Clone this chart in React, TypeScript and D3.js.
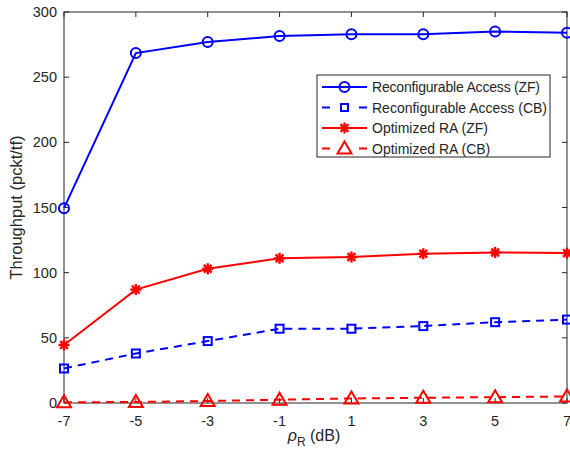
import { useRef, useEffect } from "react";
import * as d3 from "d3";

// rho_R values (dB)
const rhoValues = [-7, -5, -3, -1, 1, 3, 5, 7];
const yTicks = [0, 50, 100, 150, 200, 250, 300];

const raZF = [149.5, 268.5, 277, 281.5, 283, 283, 285, 284];
const raCB = [26.5, 38, 47.5, 57, 57, 59, 62, 64];
const optZF = [44.5, 87, 103, 111, 112, 114.5, 115.5, 115];
const optCB = [0.5, 0.8, 1.5, 2.5, 3.5, 4, 4.5, 5];

const seriesNames = [
  "Reconfigurable Access (ZF)",
  "Reconfigurable Access (CB)",
  "Optimized RA (ZF)",
  "Optimized RA (CB)",
];

const App = () => {
  const svgRef = useRef<SVGSVGElement>(null);
  const width = 570;
  const height = 458;

  useEffect(() => {
    document.body.style.margin = "0";
    document.body.style.overflow = "hidden";
    const svg = d3.select(svgRef.current);
    svg.selectAll("*").remove();

    const left = 64, right = 567, top = 12, bottom = 403;
    const x = d3.scaleLinear().domain([-7, 7]).range([left, right]);
    const y = d3.scaleLinear().domain([0, 300]).range([bottom, top]);
    const axisColor = "#262626";
    const font = "Liberation Sans, Arial, Helvetica, sans-serif";

    svg.append("rect").attr("width", width).attr("height", height).attr("fill", "#fff");

    // box
    svg.append("rect")
      .attr("x", left).attr("y", top)
      .attr("width", right - left).attr("height", bottom - top)
      .attr("fill", "none").attr("stroke", axisColor).attr("stroke-width", 1);

    // ticks
    const tl = 5;
    rhoValues.forEach(v => {
      svg.append("line").attr("x1", x(v)).attr("x2", x(v)).attr("y1", bottom).attr("y2", bottom - tl)
        .attr("stroke", axisColor);
      svg.append("line").attr("x1", x(v)).attr("x2", x(v)).attr("y1", top).attr("y2", top + tl)
        .attr("stroke", axisColor);
      svg.append("text").attr("x", x(v)).attr("y", bottom + 23)
        .attr("text-anchor", "middle").attr("font-family", font).attr("font-size", 14.5)
        .attr("fill", axisColor).text(v);
    });
    yTicks.forEach(v => {
      svg.append("line").attr("x1", left).attr("x2", left + tl).attr("y1", y(v)).attr("y2", y(v))
        .attr("stroke", axisColor);
      svg.append("line").attr("x1", right).attr("x2", right - tl).attr("y1", y(v)).attr("y2", y(v))
        .attr("stroke", axisColor);
      svg.append("text").attr("x", left - 7).attr("y", y(v) + 5)
        .attr("text-anchor", "end").attr("font-family", font).attr("font-size", 14.5)
        .attr("fill", axisColor).text(v);
    });

    // axis labels
    svg.append("text")
      .attr("transform", `translate(22,${(top + bottom) / 2}) rotate(-90)`)
      .attr("text-anchor", "middle").attr("font-family", font).attr("font-size", 16.5)
      .attr("fill", axisColor).text("Throughput (pckt/tf)");
    const xl = svg.append("text").attr("x", 314).attr("y", 441)
      .attr("text-anchor", "middle").attr("font-family", font).attr("font-size", 16)
      .attr("fill", axisColor);
    xl.append("tspan").attr("font-style", "italic").text("ρ");
    xl.append("tspan").attr("dy", 5).attr("font-size", 12).text("R");
    xl.append("tspan").attr("dy", -5).text(" (dB)");

    const blue = "#0000ff", red = "#ff0000";
    const specs = [
      { values: raZF, color: blue, dash: null, marker: "circle" },
      { values: raCB, color: blue, dash: "8,6", marker: "square" },
      { values: optZF, color: red, dash: null, marker: "star" },
      { values: optCB, color: red, dash: "8,6", marker: "triangle" },
    ];

    const drawMarker = (g: any, type: string, cx: number, cy: number, color: string, sq = 8) => {
      if (type === "circle") {
        g.append("circle").attr("cx", cx).attr("cy", cy).attr("r", 5)
          .attr("fill", "none").attr("stroke", color).attr("stroke-width", 2);
      } else if (type === "square") {
        g.append("rect").attr("x", cx - sq / 2).attr("y", cy - sq / 2).attr("width", sq).attr("height", sq)
          .attr("fill", "none").attr("stroke", color).attr("stroke-width", 2);
      } else if (type === "triangle") {
        g.append("path")
          .attr("d", `M${cx},${cy - 7}L${cx + 7},${cy + 5}L${cx - 7},${cy + 5}Z`)
          .attr("fill", "none").attr("stroke", color).attr("stroke-width", 2);
      } else {
        for (let a = 0; a < 180; a += 45) {
          const r = 5.5;
          const dx = r * Math.cos((a * Math.PI) / 180), dy = r * Math.sin((a * Math.PI) / 180);
          g.append("line").attr("x1", cx - dx).attr("y1", cy - dy).attr("x2", cx + dx).attr("y2", cy + dy)
            .attr("stroke", color).attr("stroke-width", 2.4);
        }
      }
    };

    const line = d3.line<number>().x((_, i) => x(rhoValues[i])).y(d => y(d));

    specs.forEach(s => {
      const g = svg.append("g");
      g.append("path").attr("d", line(s.values)).attr("fill", "none")
        .attr("stroke", s.color).attr("stroke-width", 2)
        .attr("stroke-dasharray", s.dash);
      s.values.forEach((v, i) => drawMarker(g, s.marker, x(rhoValues[i]), y(v), s.color));
    });

    // legend
    const lg = svg.append("g");
    lg.append("rect").attr("x", 317).attr("y", 75).attr("width", 233).attr("height", 82)
      .attr("fill", "#fff").attr("stroke", axisColor).attr("stroke-width", 1);
    specs.forEach((s, i) => {
      const ly = 87 + i * 20.5;
      lg.append("line").attr("x1", 322).attr("x2", 367).attr("y1", ly).attr("y2", ly)
        .attr("stroke", s.color).attr("stroke-width", 2).attr("stroke-dasharray", s.dash ? "8,29" : null);
      drawMarker(lg, s.marker, 344.5, ly, s.color, 7);
      lg.append("text").attr("x", 372).attr("y", ly + 5)
        .attr("font-family", font).attr("font-size", 14).attr("fill", axisColor)
        .attr("textLength", i < 2 ? (i === 0 ? 168 : 175) : null)
        .text(seriesNames[i]);
    });
  }, []);

  return (
    <svg ref={svgRef} width={width} height={height}
      style={{ display: "block", position: "absolute", left: 0, top: 0 }}></svg>
  );
};

export default App;
